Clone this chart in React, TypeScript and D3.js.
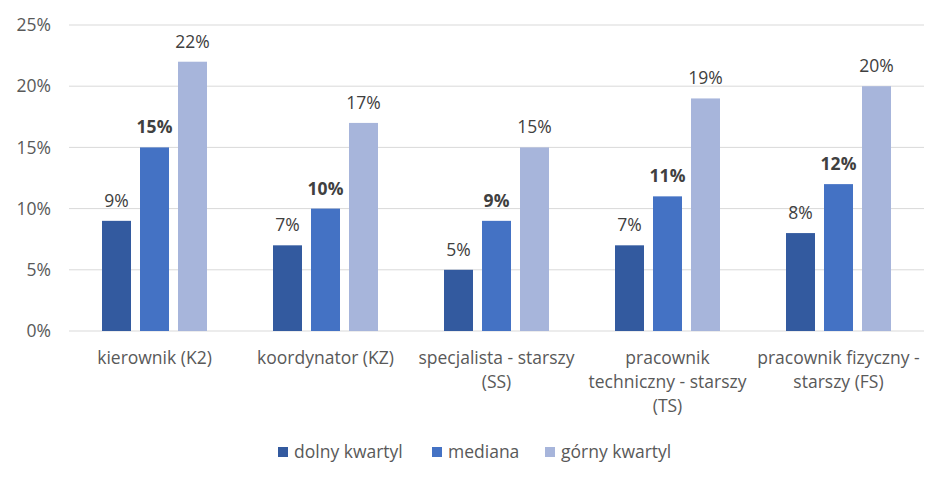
import React from "react";
import * as d3 from "d3";

const categories = [
  "kierownik (K2)",
  "koordynator (KZ)",
  "specjalista - starszy (SS)",
  "pracownik techniczny - starszy (TS)",
  "pracownik fizyczny - starszy (FS)",
];
const categoryLines = [
  ["kierownik (K2)"],
  ["koordynator (KZ)"],
  ["specjalista - starszy", "(SS)"],
  ["pracownik", "techniczny - starszy", "(TS)"],
  ["pracownik fizyczny -", "starszy (FS)"],
];
const seriesNames = ["dolny kwartyl", "mediana", "górny kwartyl"];
const dolnyKwartyl = [9, 7, 5, 7, 8];
const mediana = [15, 10, 9, 11, 12];
const gornyKwartyl = [22, 17, 15, 19, 20];
const yTicks = [0, 5, 10, 15, 20, 25];

const colors = ["#335A9F", "#4472C4", "#A7B5DB"];
const FONT = "'Open Sans', 'Noto Sans', sans-serif";
const FS = 17.5;

export default function App() {
  const W = 948, H = 486;
  const left = 69, right = 924, top = 25, bottom = 331;
  const series = [dolnyKwartyl, mediana, gornyKwartyl];

  const x0 = d3.scaleBand<string>().domain(categories).range([left, right]).paddingInner(1 / 3).paddingOuter(1 / 6);
  const x1 = d3.scaleBand<string>().domain(seriesNames).range([0, x0.bandwidth()]).paddingInner(0.237).paddingOuter(0.1185);
  const y = d3.scaleLinear().domain([0, 25]).range([bottom, top]);

  const legendX = [278, 432, 545];

  return (
    <div style={{ position: "absolute", left: 0, top: 0 }}>
      <svg width={W} height={H} style={{ display: "block", background: "#fff" }}>
        {yTicks.map((t) => (
          <g key={t}>
            <line x1={left} x2={right} y1={y(t)} y2={y(t)} stroke="#D9D9D9" strokeWidth={1} />
            <text x={51} y={y(t)} dy="0.35em" textAnchor="end" fontFamily={FONT} fontSize={FS} fill="#595959">
              {t}%
            </text>
          </g>
        ))}
        {categories.map((c, ci) => (
          <g key={c} transform={`translate(${x0(c)},0)`}>
            {seriesNames.map((s, si) => {
              const v = series[si][ci];
              const bx = x1(s)!;
              return (
                <g key={s}>
                  <rect x={bx} y={y(v)} width={x1.bandwidth()} height={y(0) - y(v)} fill={colors[si]} />
                  <text
                    x={bx + x1.bandwidth() / 2}
                    y={y(v) - 14}
                    textAnchor="middle"
                    fontFamily={FONT}
                    fontSize={FS}
                    fontWeight={si === 1 ? 700 : 400}
                    fill="#404040"
                  >
                    {v}%
                  </text>
                </g>
              );
            })}
            {categoryLines[ci].map((ln, li) => (
              <text
                key={li}
                x={x0.bandwidth() / 2}
                y={358 + li * 24}
                dy="0.35em"
                textAnchor="middle"
                fontFamily={FONT}
                fontSize={FS}
                fill="#595959"
              >
                {ln}
              </text>
            ))}
          </g>
        ))}
        {seriesNames.map((s, si) => (
          <g key={s} transform={`translate(${legendX[si]},452)`}>
            <rect x={0} y={-5} width={10} height={10} fill={colors[si]} />
            <text x={16} y={0} dy="0.35em" fontFamily={FONT} fontSize={FS} fill="#595959">
              {s}
            </text>
          </g>
        ))}
      </svg>
    </div>
  );
}
